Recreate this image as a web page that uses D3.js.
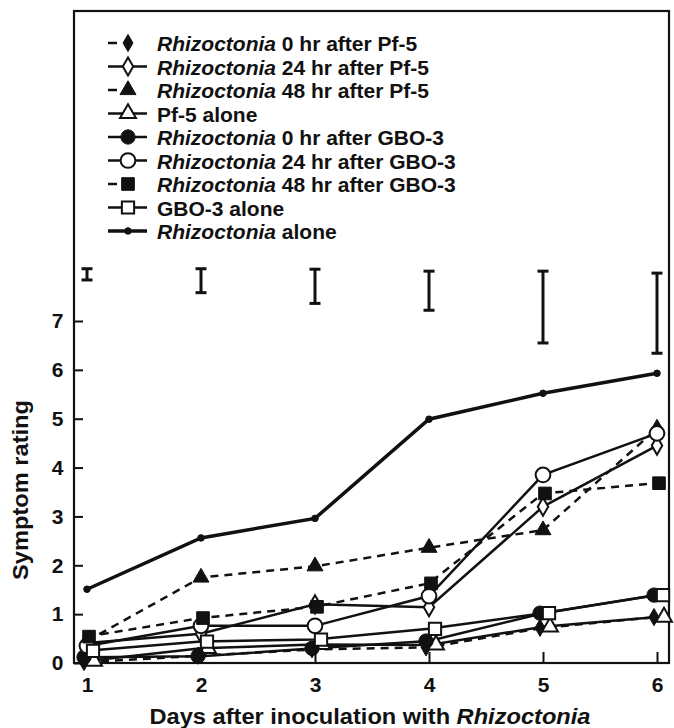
<!DOCTYPE html>
<html>
<head>
<meta charset="utf-8">
<script src="https://cdn.jsdelivr.net/npm/d3@7"></script>
<style>
  body { margin: 0; background: #fff; }
  svg { display: block; font-family: "Liberation Sans", Arial, Helvetica, sans-serif; font-weight: bold; }
</style>
</head>
<body>
<div id="chart"></div>
<script>
// data
const days = [1, 2, 3, 4, 5, 6];
const yTicks = [0, 1, 2, 3, 4, 5, 6, 7];

const rhiz0Pf5   = [0.02, 0.15, 0.28, 0.32, 0.72, 0.94];
const rhiz24Pf5  = [0.41, 0.60, 1.20, 1.14, 3.20, 4.45];
const rhiz48Pf5  = [0.45, 1.75, 1.98, 2.36, 2.72, 4.80];
const pf5Alone   = [0.04, 0.30, 0.38, 0.37, 0.74, 0.94];
const rhiz0Gbo3  = [0.12, 0.14, 0.30, 0.45, 1.02, 1.39];
const rhiz24Gbo3 = [0.35, 0.76, 0.76, 1.37, 3.85, 4.70];
const rhiz48Gbo3 = [0.54, 0.92, 1.15, 1.63, 3.47, 3.68];
const gbo3Alone  = [0.25, 0.44, 0.48, 0.70, 1.02, 1.39];
const rhizAlone  = [1.51, 2.56, 2.96, 4.99, 5.52, 5.93];

// error bars at top of plot
const errTop    = [8.07, 8.07, 8.06, 8.02, 8.02, 7.98];
const errBottom = [7.84, 7.58, 7.36, 7.22, 6.55, 6.34];

const legendItalic = ["Rhizoctonia", "Rhizoctonia", "Rhizoctonia", "", "Rhizoctonia", "Rhizoctonia", "Rhizoctonia", "", "Rhizoctonia"];
const legendRest = [" 0 hr after Pf-5", " 24 hr after Pf-5", " 48 hr after Pf-5", "Pf-5 alone",
  " 0 hr after GBO-3", " 24 hr after GBO-3", " 48 hr after GBO-3", "GBO-3 alone", " alone"];
const seriesValues = [rhiz0Pf5, rhiz24Pf5, rhiz48Pf5, pf5Alone, rhiz0Gbo3, rhiz24Gbo3, rhiz48Gbo3, gbo3Alone, rhizAlone];

// marker / line style per series (same order)
const seriesStyle = [
  { symbol: d3.symbolDiamond,  size: 85,  filled: true,  dashed: true,  width: 2.5, dx: -3 },
  { symbol: d3.symbolDiamond,  size: 95,  filled: false, dashed: false, width: 2.5, dx: 0 },
  { symbol: d3.symbolTriangle, size: 110, filled: true,  dashed: true,  width: 2.5, dx: 0 },
  { symbol: d3.symbolTriangle, size: 110, filled: false, dashed: false, width: 2.5, dx: 7 },
  { symbol: d3.symbolCircle,   size: 160, filled: true,  dashed: false, width: 2.5, dx: -3 },
  { symbol: d3.symbolCircle,   size: 170, filled: false, dashed: false, width: 2.5, dx: 0 },
  { symbol: d3.symbolSquare,   size: 160, filled: true,  dashed: true,  width: 2.5, dx: 2 },
  { symbol: d3.symbolSquare,   size: 150, filled: false, dashed: false, width: 2.5, dx: 6 },
  { symbol: d3.symbolCircle,   size: 34,  filled: true,  dashed: false, width: 3.5, dx: 0 }
];

class SymptomChart {

  constructor(_config) {
    this.config = {
      parentElement: _config.parentElement,
      containerWidth: 674,
      containerHeight: 728,
      frame: { left: 74, right: 669, top: 11, bottom: 663 }
    };
    this.initVis();
  }

  initVis() {
    let vis = this;
    const f = vis.config.frame;

    vis.svg = d3.select(vis.config.parentElement).append("svg")
        .attr("width", vis.config.containerWidth)
        .attr("height", vis.config.containerHeight);

    vis.xScale = d3.scaleLinear().domain([1, 6]).range([87, 657]);
    vis.yScale = d3.scaleLinear().domain([0, 7]).range([f.bottom, 321]);

    vis.svg.append("rect")
        .attr("x", f.left).attr("y", f.top)
        .attr("width", f.right - f.left).attr("height", f.bottom - f.top)
        .attr("fill", "none").attr("stroke", "#111").attr("stroke-width", 2.2);

    vis.yAxisGroup = vis.svg.append("g")
        .attr("transform", "translate(" + f.left + ",0)");
    vis.xAxisGroup = vis.svg.append("g")
        .attr("transform", "translate(0," + f.bottom + ")");

    vis.lineGroup = vis.svg.append("g");
    vis.markGroup = vis.svg.append("g");
    vis.errGroup = vis.svg.append("g");
    vis.legendGroup = vis.svg.append("g");

    vis.updateVis();
  }

  updateVis() {
    let vis = this;

    // axes
    vis.yAxisGroup.call(d3.axisLeft(vis.yScale).tickValues(yTicks).tickSize(-9).tickPadding(10.5).tickFormat(d3.format("d")));
    vis.xAxisGroup.call(d3.axisBottom(vis.xScale).tickValues(days).tickSize(-11).tickPadding(14).tickFormat(d3.format("d")));
    vis.svg.selectAll(".domain").remove();
    vis.svg.selectAll(".tick line").attr("stroke", "#111").attr("stroke-width", 2);
    vis.svg.selectAll(".tick text")
        .attr("fill", "#111")
        .style("font-size", "21px")
        .style("font-family", "'Liberation Sans', Arial, sans-serif")
        .style("font-weight", "bold");

    // axis titles
    let xTitle = vis.svg.append("text")
        .attr("x", 370).attr("y", 724)
        .attr("text-anchor", "middle")
        .attr("textLength", 441).attr("lengthAdjust", "spacingAndGlyphs")
        .style("font-size", "22px").attr("fill", "#111");
    xTitle.append("tspan").text("Days after inoculation with ");
    xTitle.append("tspan").style("font-style", "italic").text("Rhizoctonia");

    vis.svg.append("text")
        .attr("transform", "translate(28,490) rotate(-90)")
        .attr("text-anchor", "middle")
        .attr("textLength", 180).attr("lengthAdjust", "spacingAndGlyphs")
        .style("font-size", "22px").attr("fill", "#111")
        .text("Symptom rating");

    // series
    const series = seriesValues.map((vals, i) => ({
      style: seriesStyle[i],
      points: vals.map((v, j) => ({ day: days[j], value: v }))
    }));

    const line = d3.line()
        .x(d => vis.xScale(d.day))
        .y(d => vis.yScale(d.value));

    vis.lineGroup.selectAll(".series-line")
      .data(series)
      .join("path")
        .attr("class", "series-line")
        .attr("d", d => line(d.points))
        .attr("fill", "none")
        .attr("stroke", "#111")
        .attr("stroke-width", d => d.style.width)
        .attr("stroke-dasharray", d => d.style.dashed ? "8,6" : null);

    let markSets = vis.markGroup.selectAll(".marks")
      .data(series)
      .join("g")
        .attr("class", "marks");

    markSets.selectAll("path")
      .data(d => d.points.map(p => ({ p: p, style: d.style })))
      .join("path")
        .attr("transform", d => "translate(" + (vis.xScale(d.p.day) + d.style.dx) + "," + vis.yScale(d.p.value) + ")")
        .attr("d", d => d3.symbol().type(d.style.symbol).size(d.style.size)())
        .attr("fill", d => d.style.filled ? "#111" : "#fff")
        .attr("stroke", "#111")
        .attr("stroke-width", d => d.style.filled ? 1 : 2);

    // error bars
    const errData = days.map((d, i) => ({ day: d, top: errTop[i], bottom: errBottom[i] }));
    let err = vis.errGroup.selectAll(".err")
      .data(errData)
      .join("g")
        .attr("class", "err")
        .attr("stroke", "#111")
        .attr("stroke-width", 3);
    err.append("line")
        .attr("x1", d => vis.xScale(d.day)).attr("x2", d => vis.xScale(d.day))
        .attr("y1", d => vis.yScale(d.top)).attr("y2", d => vis.yScale(d.bottom));
    err.append("line")
        .attr("x1", d => vis.xScale(d.day) - 5.5).attr("x2", d => vis.xScale(d.day) + 5.5)
        .attr("y1", d => vis.yScale(d.top)).attr("y2", d => vis.yScale(d.top));
    err.append("line")
        .attr("x1", d => vis.xScale(d.day) - 5.5).attr("x2", d => vis.xScale(d.day) + 5.5)
        .attr("y1", d => vis.yScale(d.bottom)).attr("y2", d => vis.yScale(d.bottom));

    // legend
    let rows = vis.legendGroup.selectAll(".legend-row")
      .data(series.map((s, i) => ({ style: s.style, italic: legendItalic[i], rest: legendRest[i] })))
      .join("g")
        .attr("class", "legend-row")
        .attr("transform", (d, i) => "translate(0," + (43 + i * 23.5) + ")");

    // dashed entries only show a short stub left of the marker
    rows.append("line")
        .attr("x1", 108).attr("x2", d => d.style.dashed ? 128 : 147)
        .attr("stroke", "#111")
        .attr("stroke-width", d => d.style.width)
        .attr("stroke-dasharray", d => d.style.dashed ? "9,40" : null);
    rows.append("path")
        .attr("transform", "translate(128,0)")
        .attr("d", d => d3.symbol().type(d.style.symbol).size(d.style.size)())
        .attr("fill", d => d.style.filled ? "#111" : "#fff")
        .attr("stroke", "#111")
        .attr("stroke-width", d => d.style.filled ? 1 : 2);

    let label = rows.append("text")
        .attr("x", 157).attr("y", 8)
        .style("font-size", "21px").attr("fill", "#111");
    label.append("tspan").style("font-style", "italic").text(d => d.italic);
    label.append("tspan").text(d => d.rest);
  }
}

new SymptomChart({ parentElement: "#chart" });
</script>
</body>
</html>
